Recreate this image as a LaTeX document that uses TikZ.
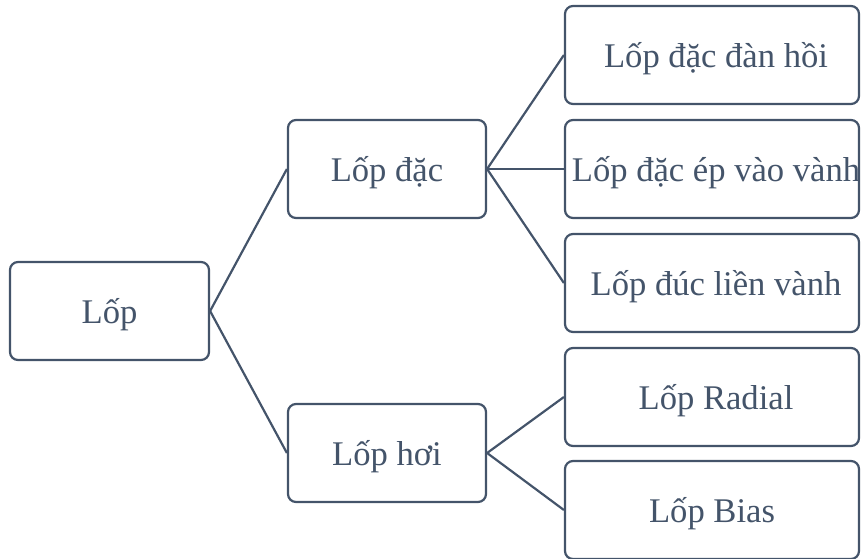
\documentclass[tikz,border=0pt]{standalone}
\usepackage{fontspec}
\setmainfont{Liberation Serif}
\definecolor{slate}{HTML}{44546A}
\begin{document}
\begin{tikzpicture}[x=1pt,y=-1pt,
  box/.style={draw=slate, line width=2.2pt, rounded corners=8pt, fill=white,
    text=slate, font=\fontsize{34.6}{40}\selectfont, inner sep=0pt,
    text height=30pt, text depth=6pt},
  wide/.style={box, minimum width=294pt, minimum height=98pt},
  mid/.style={box, minimum width=198pt, minimum height=98pt},
  link/.style={draw=slate, line width=2.2pt}]
% leaf labels sit a little right of the box centre
\newcommand\nudge[1]{\makebox[280pt]{\hspace*{8pt}#1}}
\useasboundingbox (0,0) rectangle (861,558);
\begin{scope}
\clip (0,0) rectangle (861,558);
% root
\node[box, minimum width=199pt, minimum height=98pt] (root) at (109.5,311) {Lốp};
% second level
\node[mid] (dac) at (387,169) {Lốp đặc};
\node[mid] (hoi) at (387,453) {Lốp hơi};
% leaves
\node[wide] (l1) at (712,55) {\nudge{Lốp đặc đàn hồi}};
\node[wide] (l2) at (712,169) {\nudge{Lốp đặc ép vào vành}};
\node[wide] (l3) at (712,283) {\nudge{Lốp đúc liền vành}};
\node[wide] (l4) at (712,397) {\nudge{Lốp Radial}};
\node[wide] (l5) at (712,510) {Lốp Bias};
% connectors
\draw[link] (root.east) -- (dac.west);
\draw[link] (root.east) -- (hoi.west);
\draw[link] (dac.east) -- (l1.west);
\draw[link] (dac.east) -- (l2.west);
\draw[link] (dac.east) -- (l3.west);
\draw[link] (hoi.east) -- (l4.west);
\draw[link] (hoi.east) -- (l5.west);
\end{scope}
\end{tikzpicture}
\end{document}
